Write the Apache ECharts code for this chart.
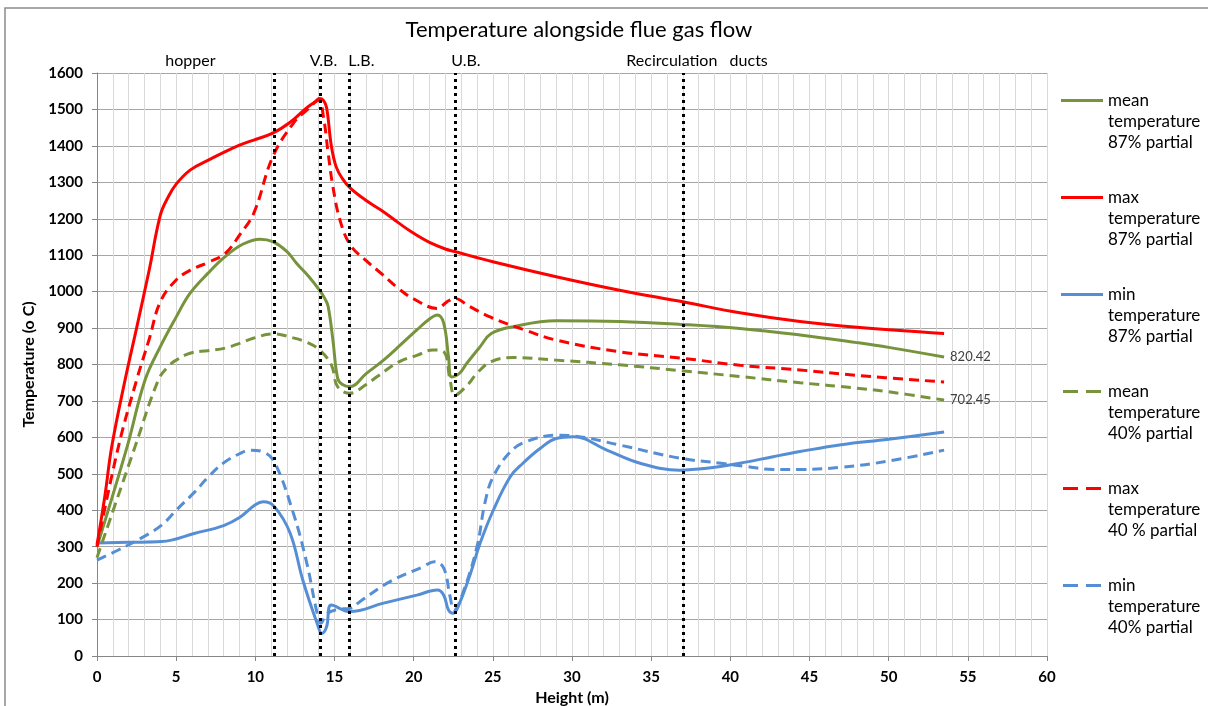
<!DOCTYPE html>
<html>
<head>
<meta charset="utf-8">
<script src="https://cdn.jsdelivr.net/npm/echarts@6/dist/echarts.min.js"></script>
<style>html,body{margin:0;padding:0;background:#fff}#c{width:1208px;height:706px}</style>
</head>
<body>
<div id="c"></div>
<script>
// ---- data ----
var seriesNames = [
  'mean\ntemperature\n87% partial',
  'max\ntemperature\n87% partial',
  'min\ntemperature\n87% partial',
  'mean\ntemperature\n40% partial',
  'max\ntemperature\n40 % partial',
  'min\ntemperature\n40% partial'
];
var mean87X = [0,1.9,3.03,4,5,5.87,7,8.09,9.2,10.3,11.1,12.0,12.6,13.4,14.05,14.4,14.6,14.9,15.2,15.5,15.98,17,18.1,19.2,20.2,21.0,21.5,21.9,22.2,22.4,22.9,23.35,24.2,24.9,26.3,29,33,36.9,40.6,44.4,48,50,53.5];
var mean87Y = [300,574,757,849,930,995,1050,1096,1130,1144,1137,1110,1078,1040,1004,980,959,867,762,745,739,775,812,855,895,925,936,913,821,766,776,803,849,885,904,920,918,910,899,881,860,847,820.42];
var max87X = [0,0.5,0.93,1.77,2.5,3.3,4,4.5,5,5.9,7,8.1,9,9.9,11.1,12.2,13.2,13.8,14.05,14.3,14.5,14.8,15.1,15.5,16,17,18,19,20,21,22,22.6,25,29,33,37,40.6,44.4,48,53.5];
var max87Y = [305,440,574,757,900,1060,1210,1260,1295,1334,1360,1384,1402,1416,1435,1465,1503,1522,1530,1525,1505,1400,1343,1310,1284,1250,1222,1190,1160,1135,1117,1110,1082,1041,1004,972,942,918,902,885];
var min87X = [0,2,4.08,6.19,8,9,10,10.5,11.2,12.2,13.0,13.9,14.2,14.5,14.8,15.98,18.1,20.2,21.5,21.9,22.2,22.5,22.9,23.6,24.2,25.03,26.1,26.9,28,29,30.1,32.2,34.3,36.8,38.5,40.6,42.7,44.4,47,50,53.5];
var min87Y = [310,312,314,337,358,380,415,423,410,337,208,90,62,80,140,122,145,167,181,167,126,117,145,228,310,400,492,529,570,597,602,565,529,510,515,529,547,561,580,595,615];
var mean40X = [0,2.4,3.87,4.5,5,5.87,7,8.09,9.0,9.87,11.1,12.4,13.3,14.05,14.8,15.2,15.98,17,17.7,19.1,20.2,21.2,21.9,22.3,22.6,23.4,24.0,24.9,26.3,29,33,36.9,40.6,44.4,48,50,53.5];
var mean40Y = [270,574,757,795,812,831,838,845,858,872,884,873,860,840,799,739,721,745,767,808,825,840,835,757,716,744,776,808,819,812,799,783,767,750,735,725,702.45];
var max40X = [0,1.35,2.5,3.3,4,5,5.9,7,8.1,9,9.9,11.1,12.4,13.3,14.0,14.3,14.6,14.9,15.35,16,17,18,19,20,21.5,22.1,22.6,23.5,24.9,27,29,33,37,40.6,44.4,48,53.5];
var max40Y = [300,574,757,870,972,1032,1059,1080,1105,1155,1215,1370,1462,1500,1525,1480,1380,1288,1196,1128,1085,1048,1010,980,954,972,981,960,929,895,867,835,817,798,785,770,752];
var min40X = [0,1.35,2.93,4.08,5,6.19,7,8,9,9.67,10.5,11.2,12.4,13.25,13.9,14.15,14.5,15.2,16,16.6,18.5,20.6,21.3,21.9,22.3,22.55,23.1,24.0,24.5,25.0,26.1,27.1,29,30.1,33,36.8,39.4,41,42.7,44.4,47,50,53.5];
var min40Y = [263,291,327,359,400,451,490,530,555,565,560,533,392,255,118,90,115,128,131,149,204,245,259,241,163,126,172,300,420,490,560,588,606,604,579,543,529,520,512,512,518,535,565];
var boundaryX = [11.2, 14.1, 15.9, 22.6, 37.0];
var regionNames = ['hopper', 'V.B.', 'L.B.', 'U.B.', 'Recirculation   ducts'];
var regionX = [5.9, 14.3, 16.7, 23.3, 37.9];
var xTicks = [0,5,10,15,20,25,30,35,40,45,50,55,60];
var yTicks = [0,100,200,300,400,500,600,700,800,900,1000,1100,1200,1300,1400,1500,1600];

function zip(xs, ys){ return xs.map(function(x,i){ return [x, ys[i]]; }); }

var GREEN = '#77933C', RED = '#FF0000', BLUE = '#558ED5';
var FONT = 'Lato';
var SOLID_ICON = 'path://M0,0H42V3H0Z';
var DASH_ICON = 'path://M0,0H15V3H0Z M23,0H38V3H23Z';

function mkSeries(name, xs, ys, color, dashed, extra){
  var s = {
    name: name, type: 'line', data: zip(xs, ys),
    smooth: 0.4, symbol: 'none', showSymbol: false,
    lineStyle: { color: color, width: 3, type: dashed ? [10, 6] : 'solid' },
    itemStyle: { color: color },
    z: 3
  };
  if (extra) for (var k in extra) s[k] = extra[k];
  return s;
}
var endLbl = {
  show: true, color: '#404040', fontFamily: FONT, fontSize: 13, distance: 6,
  formatter: function(p){ return String(p.value[1]); }
};

var series = [
  mkSeries(seriesNames[0], mean87X, mean87Y, GREEN, false, { endLabel: endLbl,
    markLine: {
      silent: true, symbol: 'none', animation: false,
      lineStyle: { color: '#000', width: 3, type: [3, 4] },
      label: { show: false },
      data: boundaryX.map(function(x){ return { xAxis: x }; })
    },
    markPoint: {
      silent: true, symbol: 'rect', symbolSize: 0, animation: false,
      label: { show: true, position: 'top', distance: 4, color: '#000', fontFamily: FONT, fontSize: 16,
        formatter: function(p){ return p.name; } },
      data: regionNames.map(function(n, i){ return { name: n, coord: [regionX[i], 1600] }; })
    }
  }),
  mkSeries(seriesNames[1], max87X, max87Y, RED, false),
  mkSeries(seriesNames[2], min87X, min87Y, BLUE, false),
  mkSeries(seriesNames[3], mean40X, mean40Y, GREEN, true, { endLabel: endLbl }),
  mkSeries(seriesNames[4], max40X, max40Y, RED, true),
  mkSeries(seriesNames[5], min40X, min40Y, BLUE, true)
];

var chart = echarts.init(document.getElementById('c'), null, { renderer: 'canvas' });
chart.setOption({
  animation: false,
  backgroundColor: '#fff',
  textStyle: { fontFamily: FONT },
  title: {
    text: 'Temperature alongside flue gas flow',
    left: 574, top: 14, textAlign: 'center',
    textStyle: { fontFamily: FONT, fontSize: 22, fontWeight: 'normal', color: '#000' }
  },
  graphic: [{
    type: 'rect', silent: true, z: -1,
    shape: { x: 5, y: 8, width: 1400, height: 900 },
    style: { fill: 'none', stroke: '#8c8c8c', lineWidth: 1.5 }
  }],
  grid: { left: 97, right: 161, top: 73, bottom: 50, containLabel: false, outerBoundsMode: 'none' },
  legend: {
    orient: 'vertical', left: 1061, top: 48, padding: 0,
    itemWidth: 42, itemHeight: 3, itemGap: -8,
    data: seriesNames.map(function(n, i){ return { name: n, icon: i < 3 ? SOLID_ICON : DASH_ICON }; }),
    formatter: function(name){ return '\n\n' + name; },
    textStyle: { fontFamily: FONT, fontSize: 17, color: '#000', lineHeight: 21 }
  },
  xAxis: {
    type: 'value', min: xTicks[0], max: xTicks[xTicks.length - 1], interval: 5,
    name: 'Height (m)', nameLocation: 'middle', nameGap: 33,
    nameTextStyle: { fontFamily: FONT, fontSize: 16, fontWeight: 'bold', color: '#000' },
    axisLine: { lineStyle: { color: '#868686', width: 1 } },
    axisTick: { show: true, length: 5, lineStyle: { color: '#868686' } },
    axisLabel: { fontFamily: FONT, fontSize: 15, fontWeight: 'bold', color: '#000', margin: 14 },
    splitLine: { show: true, lineStyle: { color: '#d9d9d9', width: 1 } },
    minorTick: { show: false, splitNumber: 5 },
    minorSplitLine: { show: true, lineStyle: { color: '#d9d9d9', width: 1 } }
  },
  yAxis: {
    type: 'value', min: yTicks[0], max: yTicks[yTicks.length - 1], interval: 100,
    name: 'Temperature (o C)', nameLocation: 'middle', nameGap: 55, nameRotate: 90,
    nameTextStyle: { fontFamily: FONT, fontSize: 16, fontWeight: 'bold', color: '#000' },
    axisLine: { show: true, lineStyle: { color: '#868686', width: 1 } },
    axisTick: { show: true, length: 5, lineStyle: { color: '#868686' } },
    axisLabel: { fontFamily: FONT, fontSize: 15, fontWeight: 'bold', color: '#000', margin: 14,
      formatter: function(v){ return String(v); } },
    splitLine: { show: true, lineStyle: { color: '#a6a6a6', width: 1 } }
  },
  series: series
});
</script>
</body>
</html>
